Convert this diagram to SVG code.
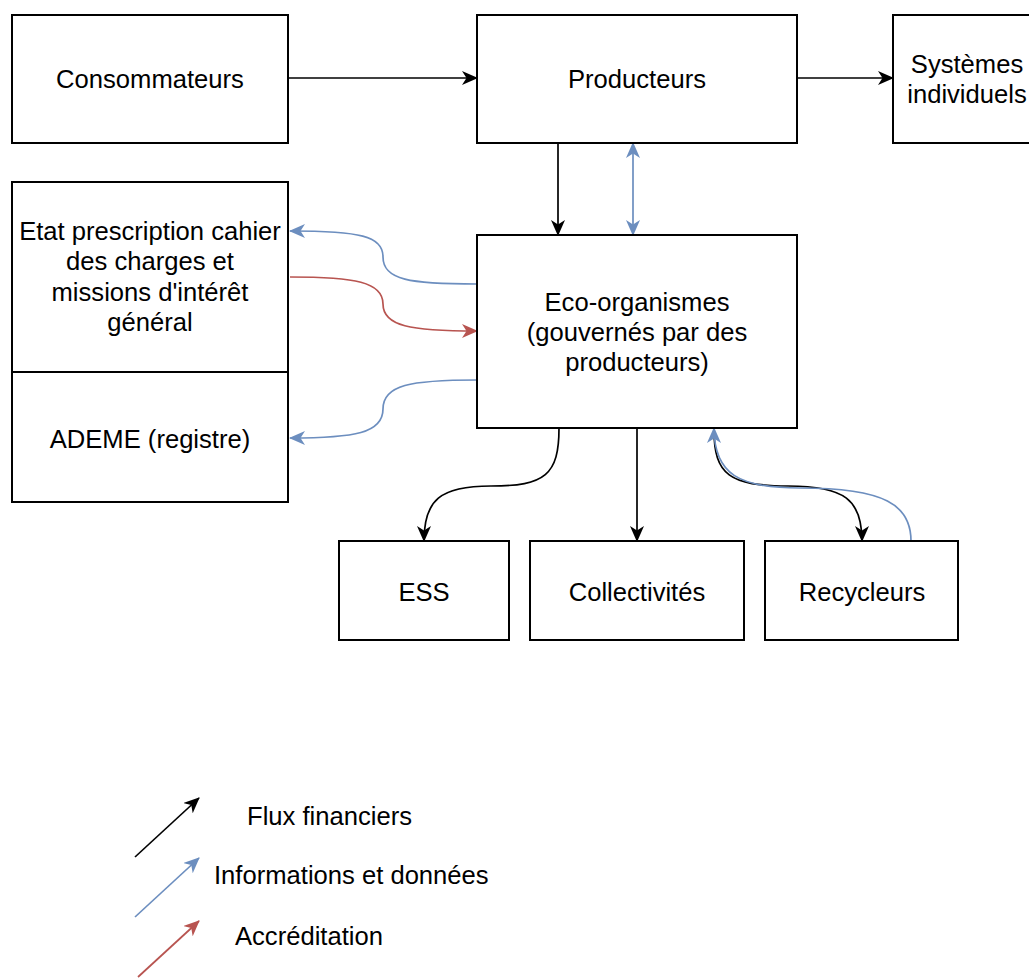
<svg xmlns="http://www.w3.org/2000/svg" width="1029" height="978" viewBox="0 0 1029 978">
<style>
.box{fill:#fff;stroke:#000;stroke-width:2}
.t{font-family:"Liberation Sans",Arial,Helvetica,sans-serif;font-size:25.6px;fill:#000;text-anchor:middle}
.tl{font-family:"Liberation Sans",Arial,Helvetica,sans-serif;font-size:25.6px;fill:#000}
.k{fill:none;stroke:#000;stroke-width:1.7}
.b{fill:none;stroke:#6c8ebf;stroke-width:1.7}
.r{fill:none;stroke:#b85450;stroke-width:1.7}
</style>
<defs>
<marker id="ak" viewBox="0 0 16 14" markerWidth="16" markerHeight="14" refX="15" refY="7" orient="auto-start-reverse" markerUnits="userSpaceOnUse"><path d="M0,0 L16,7 L0,14 L4.5,7 z" fill="#000"/></marker>
<marker id="ab" viewBox="0 0 16 14" markerWidth="16" markerHeight="14" refX="15" refY="7" orient="auto-start-reverse" markerUnits="userSpaceOnUse"><path d="M0,0 L16,7 L0,14 L4.5,7 z" fill="#6c8ebf"/></marker>
<marker id="ar" viewBox="0 0 16 14" markerWidth="16" markerHeight="14" refX="15" refY="7" orient="auto-start-reverse" markerUnits="userSpaceOnUse"><path d="M0,0 L16,7 L0,14 L4.5,7 z" fill="#b85450"/></marker>
</defs>
<rect width="1029" height="978" fill="#fff"/>
<g id="connectors">
<path class="k" d="M288,78 L477,78" marker-end="url(#ak)"/>
<path class="k" d="M797,78 L893,78" marker-end="url(#ak)"/>
<path class="k" d="M558,143 L558,235" marker-end="url(#ak)"/>
<path class="b" d="M633,143 L633,235" marker-start="url(#ab)" marker-end="url(#ab)"/>
<path class="b" d="M477,284 C410,284 383,280 383,257 C383,236 360,231 290,231" marker-end="url(#ab)"/>
<path class="r" d="M290,277 C355,277 383,282 383,304 C383,326 410,331 477,331" marker-end="url(#ar)"/>
<path class="b" d="M477,380 C410,380 383,385 383,409 C383,433 355,438 290,438" marker-end="url(#ab)"/>
<path class="k" d="M559,428 C559,475 545,486 491,486 C440,486 424,500 424,541" marker-end="url(#ak)"/>
<path class="k" d="M637,428 L637,541" marker-end="url(#ak)"/>
<path class="k" d="M714,430 C714,475 730,486 788,486 C845,486 862,500 862,541" marker-end="url(#ak)"/>
<path class="b" d="M911,541 C911,505 885,488 800,488 C740,488 714,475 714,428" marker-end="url(#ab)"/>
</g>
<g id="consommateurs"><rect class="box" x="12" y="15" width="276" height="128"/><text class="t" x="150" y="88">Consommateurs</text></g>
<g id="producteurs"><rect class="box" x="477" y="15" width="320" height="128"/><text class="t" x="637" y="88">Producteurs</text></g>
<g id="systemes"><rect class="box" x="893" y="15" width="150" height="128"/><text class="t" x="967" y="73">Systèmes</text><text class="t" x="967" y="103">individuels</text></g>
<g id="etat"><rect class="box" x="12" y="182" width="276" height="190"/><text class="t" x="150" y="240">Etat prescription cahier</text><text class="t" x="150" y="270">des charges et</text><text class="t" x="150" y="301">missions d'intérêt</text><text class="t" x="150" y="331">général</text></g>
<g id="ademe"><rect class="box" x="12" y="372" width="276" height="130"/><text class="t" x="150" y="448">ADEME (registre)</text></g>
<g id="eco"><rect class="box" x="477" y="235" width="320" height="193"/><text class="t" x="637" y="311">Eco-organismes</text><text class="t" x="637" y="341">(gouvernés par des</text><text class="t" x="637" y="371">producteurs)</text></g>
<g id="ess"><rect class="box" x="339" y="541" width="170" height="99"/><text class="t" x="424" y="601">ESS</text></g>
<g id="collectivites"><rect class="box" x="530" y="541" width="214" height="99"/><text class="t" x="637" y="601">Collectivités</text></g>
<g id="recycleurs"><rect class="box" x="765" y="541" width="193" height="99"/><text class="t" x="862" y="601">Recycleurs</text></g>
<g id="legend">
<path class="k" d="M135,857 L199,798" marker-end="url(#ak)"/>
<path class="b" d="M135,917 L199,858" marker-end="url(#ab)"/>
<path class="r" d="M138,977 L199,921" marker-end="url(#ar)"/>
<text class="tl" x="247" y="825">Flux financiers</text>
<text class="tl" x="214" y="884">Informations et données</text>
<text class="tl" x="235" y="945">Accréditation</text>
</g>
</svg>
